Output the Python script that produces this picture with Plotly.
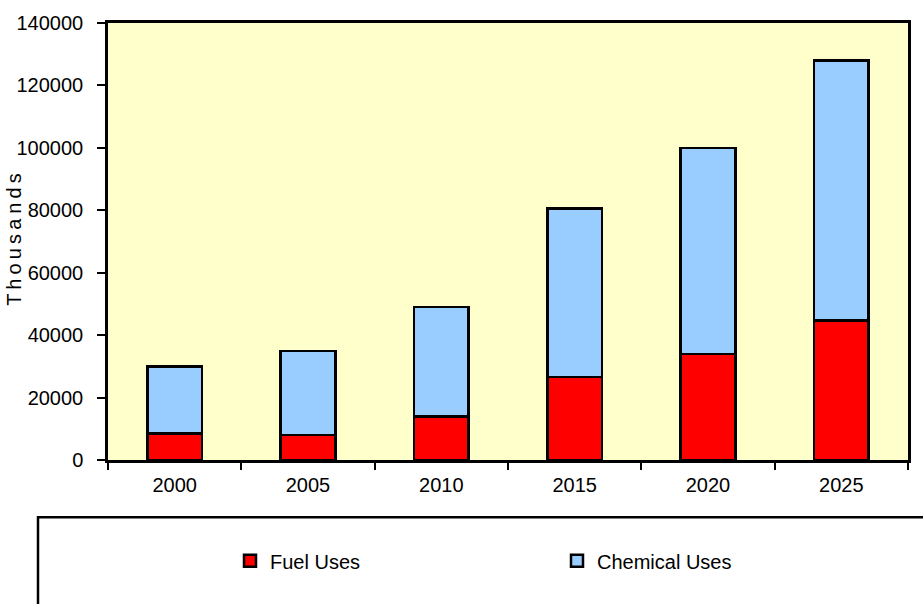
import plotly.graph_objects as go

years = ["2000", "2005", "2010", "2015", "2020", "2025"]
fuel_uses = [8500, 8000, 14000, 26600, 34000, 44700]
chemical_uses = [21500, 27000, 35000, 54000, 66000, 83300]
y_title = "Thousands"

FONT = "Liberation Sans Narrow, Arial Narrow, Liberation Sans, Arial, sans-serif"

fig = go.Figure()
fig.add_trace(go.Bar(x=years, y=fuel_uses, name="Fuel Uses",
                     marker=dict(color="#FF0000", line=dict(color="black", width=2.5))))
fig.add_trace(go.Bar(x=years, y=chemical_uses, name="Chemical Uses",
                     marker=dict(color="#99CCFF", line=dict(color="black", width=2.5))))

W, H = 923, 604
L, R, T, B = 108, 15, 18, 144
pw, ph = W - L - R, H - T - B

def px_to_paper_x(px):
    return (px - L) / pw

def px_to_paper_y(py):
    return (H - B - py) / ph

annotations = []
n = len(y_title)
top_c, bot_c = 175, 298
for i, ch in enumerate(y_title):
    yc = bot_c - i * (bot_c - top_c) / (n - 1)
    annotations.append(dict(text=ch, x=px_to_paper_x(14), y=px_to_paper_y(yc),
                            xref="paper", yref="paper", showarrow=False, textangle=-90,
                            font=dict(family=FONT, size=20, color="black"),
                            xanchor="center", yanchor="middle"))

fig.update_layout(
    width=W, height=H,
    margin=dict(l=L, r=R, t=T, b=B),
    paper_bgcolor="white",
    plot_bgcolor="#FFFFCC",
    barmode="stack",
    bargap=0.59,
    font=dict(family=FONT, size=20, color="black"),
    showlegend=True,
    legend=dict(orientation="h", x=px_to_paper_x(230), xanchor="left",
                y=px_to_paper_y(562), yanchor="middle",
                bgcolor="rgba(0,0,0,0)", entrywidth=282, entrywidthmode="pixels",
                itemwidth=30, font=dict(family=FONT, size=20, color="black"),
                traceorder="normal"),
    xaxis=dict(type="category", showline=True, linecolor="black", linewidth=2.5,
               mirror=True, ticks="outside", ticklen=7, tickwidth=2, tickcolor="black",
               tickson="boundaries", showgrid=False, ticklabelstandoff=5,
               tickfont=dict(family=FONT, size=20)),
    yaxis=dict(range=[0, 140000], dtick=20000, showline=True, linecolor="black",
               linewidth=2.5, mirror=True, ticks="outside", ticklen=8, tickwidth=2,
               tickcolor="black", showgrid=False, zeroline=False, ticklabelstandoff=10,
               tickformat="d", tickfont=dict(family=FONT, size=20)),
    annotations=annotations,
    shapes=[dict(type="rect", xref="paper", yref="paper",
                 x0=px_to_paper_x(38), x1=px_to_paper_x(930),
                 y0=px_to_paper_y(518), y1=px_to_paper_y(612),
                 line=dict(color="black", width=2.5), fillcolor="rgba(0,0,0,0)",
                 layer="above")],
)

fig.write_html("out.html")
